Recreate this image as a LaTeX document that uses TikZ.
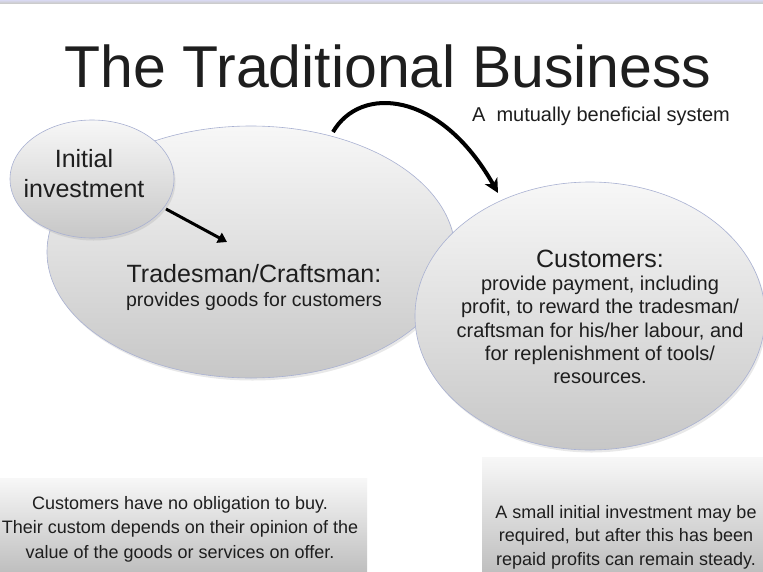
\documentclass[tikz,border=0pt]{standalone}
\usepackage{fontspec}
\setmainfont{Liberation Sans}
\usetikzlibrary{shapes.geometric,shadows,arrows.meta}
\definecolor{txt}{HTML}{1E1E1E}
\definecolor{rim}{HTML}{A9B1D2}
\tikzset{
  bubble/.style={ellipse, inner sep=0pt, draw=rim, line width=0.6pt,
    top color=black!3, bottom color=black!22,
    drop shadow={opacity=0.18, shadow xshift=1.5pt, shadow yshift=-2.5pt}},
  panel/.style={rectangle, inner sep=0pt, top color=black!3, bottom color=black!25},
  lbl/.style={text=txt, align=center, inner sep=0pt},
  flow/.style={line width=3pt, -{Triangle[length=9pt,width=11pt]}},
  bigflow/.style={line width=4pt, -{Stealth[length=14pt,width=14pt,inset=4pt]}}
}
\begin{document}
\begin{tikzpicture}[x=1pt,y=-1pt]
\useasboundingbox (0,0) rectangle (763,571);
\fill[white] (0,0) rectangle (763,571);
\fill[top color=black!35!blue!15!white, bottom color=black!20] (0,0) rectangle (763,3);
% bottom panels
\node[panel, minimum width=367pt, minimum height=93pt, anchor=north west] (leftbox) at (0,478) {};
\node[panel, minimum width=281pt, minimum height=114pt, anchor=north west] (rightbox) at (482,457) {};
% bubbles
\node[bubble, minimum width=408pt, minimum height=252pt] (trade) at (251,252) {};
\node[bubble, minimum width=350pt, minimum height=268pt] (cust) at (590,316) {};
\node[bubble, minimum width=164pt, minimum height=118pt] (inv) at (92,179) {};
% title
\node[lbl, font=\fontsize{59}{60}\selectfont, anchor=base] (title) at (388,87) {The Traditional Business};
\node[lbl, font=\fontsize{20}{22}\selectfont, anchor=base] (sub) at (601,121) {A\ \ mutually beneficial system};
% texts
\node[lbl, font=\fontsize{25}{30}\selectfont, anchor=center] (invtext) at (84,174) {Initial\\investment};
\node[lbl, font=\fontsize{25}{27}\selectfont, anchor=base] (tradehead) at (254,282) {Tradesman/Craftsman:};
\node[lbl, font=\fontsize{19.5}{22}\selectfont, anchor=base] (tradebody) at (254,306) {provides goods for customers};
\node[lbl, font=\fontsize{25}{27}\selectfont, anchor=base] (custhead) at (600,267) {Customers:};
\node[lbl, font=\fontsize{20}{23.3}\selectfont, anchor=center] (custbody) at (600,330) {provide payment, including\\profit, to reward the tradesman/\\craftsman for his/her labour, and\\for replenishment of tools/\\resources.};
\node[lbl, font=\fontsize{18}{24.5}\selectfont, anchor=center] (lefttext) at (180,529) {Customers have no obligation to buy.\\Their custom depends on their opinion of the\\value of the goods or services on offer.};
\node[lbl, font=\fontsize{18}{23.5}\selectfont, anchor=center] (righttext) at (626,537) {A small initial investment may be\\required, but after this has been\\repaid profits can remain steady.};
% arrows
\coordinate (a1s) at (166,209);
\coordinate (a1e) at (227,242);
\draw[flow] (a1s) -- (a1e);
\coordinate (a2s) at (333,132);
\coordinate (a2e) at (498,193);
\draw[bigflow] (a2s) .. controls (360,85) and (440,90) .. (a2e);
\end{tikzpicture}
\end{document}
